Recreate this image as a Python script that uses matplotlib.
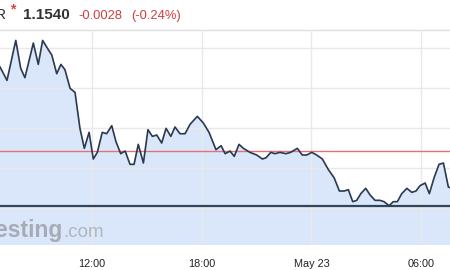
import numpy as np
import matplotlib
matplotlib.use("Agg")
import matplotlib.pyplot as plt

# hours since May 22 00:00
hours = [6.97, 7.35, 7.83, 8.10, 8.33, 8.79, 9.06, 9.30, 9.52, 9.80,
         10.07, 10.30, 10.52, 10.80, 11.07, 11.34, 11.58, 11.84, 12.07, 12.29,
         12.56, 12.80, 13.08, 13.31, 13.57, 13.81, 14.08, 14.30, 14.53, 14.81,
         15.06, 15.30, 15.54, 15.81, 16.05, 16.31, 16.54, 16.81, 17.09, 17.36,
         17.76, 18.09, 18.40, 18.78, 19.06, 19.28, 19.55, 19.78, 20.04, 20.28,
         20.64, 21.01, 21.32, 21.52, 21.78, 22.01, 22.28, 22.60, 22.86, 23.23,
         23.50, 23.74, 24.02, 24.29, 24.60, 24.93, 25.24, 25.53, 25.79, 26.02,
         26.26, 26.48, 26.70, 26.97, 27.21, 27.48, 27.75, 27.97, 28.25, 28.48,
         28.70, 28.94, 29.22, 29.49, 29.72, 29.94, 30.22, 30.45, 30.71, 30.98,
         31.22, 31.49, 31.70]
price = [1.1631, 1.1621, 1.1651, 1.1630, 1.1623, 1.1649, 1.1633, 1.1651, 1.1646, 1.1640,
         1.1626, 1.1633, 1.1629, 1.1615, 1.1612, 1.1585, 1.1570, 1.1582, 1.1562, 1.1567,
         1.1582, 1.1581, 1.1587, 1.1575, 1.1566, 1.1568, 1.1558, 1.1558, 1.1573, 1.1559,
         1.1584, 1.1579, 1.1580, 1.1574, 1.1585, 1.1579, 1.1586, 1.1581, 1.1581, 1.1588,
         1.1594, 1.1589, 1.1582, 1.1569, 1.1572, 1.1566, 1.1568, 1.1564, 1.1573, 1.1570,
         1.1567, 1.1565, 1.1562, 1.1563, 1.1567, 1.1566, 1.1567, 1.1566, 1.1567, 1.1570,
         1.1565, 1.1565, 1.1567, 1.1565, 1.1562, 1.1554, 1.1548, 1.1538, 1.1538, 1.1539,
         1.1530, 1.1531, 1.1536, 1.1540, 1.1535, 1.1531, 1.1531, 1.1530, 1.1527, 1.1530,
         1.1530, 1.1536, 1.1540, 1.1537, 1.1538, 1.1542, 1.1544, 1.1536, 1.1548, 1.1558,
         1.1559, 1.1541, 1.1540]

prev_close = 1.1568
day_low = 1.1527
tick_hours = [12, 18, 24, 30]
tick_labels = ["12:00", "18:00", "May 23", "06:00"]
grid_prices = [1.1525, 1.1555, 1.1585, 1.1615, 1.1645]

plt.rcParams['font.family'] = ['Liberation Sans', 'DejaVu Sans']

fig = plt.figure(figsize=(4.5, 2.7), dpi=100)
fig.patch.set_facecolor("white")
ax = fig.add_axes([0, 25 / 270, 1, 215 / 270])

ymin, ymax = 1.14975, 1.16588
ax.set_xlim(6.967, 31.58)
ax.set_ylim(ymin, ymax)

ax.fill_between(hours, price, ymin, color="#dae7fa", zorder=1)
ax.plot(hours, price, color="#2c3a4f", lw=1.2, zorder=4)
ax.axhline(prev_close, color="#e27373", lw=1.0, zorder=3)
ax.axhline(day_low, color="#34455a", lw=1.6, zorder=3)

ax.set_xticks(tick_hours)
ax.set_xticklabels(tick_labels, fontsize=7.8, color="#222222")
ax.set_yticks(grid_prices)
ax.tick_params(axis="x", length=0, pad=10)
ax.tick_params(axis="y", length=0, labelleft=False)
ax.grid(True, color="#e9e9e9", lw=1.0, zorder=2)
ax.set_axisbelow(False)
for gl in ax.get_xgridlines() + ax.get_ygridlines():
    gl.set_zorder(2)
for s in ["left", "right", "bottom"]:
    ax.spines[s].set_visible(False)
ax.spines["top"].set_color("#dedede")
ax.spines["top"].set_linewidth(1.0)
ax.set_facecolor("white")

# header
def px(x, y):
    return x / 450, 1 - y / 270

fig.text(*px(6.5, 19), "EUR", ha="right", va="baseline", fontsize=11,
         color="#333333")
fig.text(*px(13, 13), "*", ha="center", va="baseline", fontsize=10,
         color="#e0403f", fontweight="bold")
fig.text(*px(23, 19), "1.1540", ha="left", va="baseline", fontsize=11,
         fontweight="bold", color="#333333")
fig.text(*px(78, 19), "-0.0028", ha="left", va="baseline", fontsize=9.3,
         color="#d23c3c")
fig.text(*px(131, 19), "(-0.24%)", ha="left", va="baseline", fontsize=9.3,
         color="#d23c3c")

# watermark
fig.text(*px(63, 237), "investing", ha="right", va="baseline", fontsize=16.5,
         fontweight="bold", color="#a6acb5")
fig.text(*px(63, 237), ".com", ha="left", va="baseline", fontsize=13.5,
         color="#b0b6bf")

fig.savefig("out.png", dpi=100, facecolor="white")
